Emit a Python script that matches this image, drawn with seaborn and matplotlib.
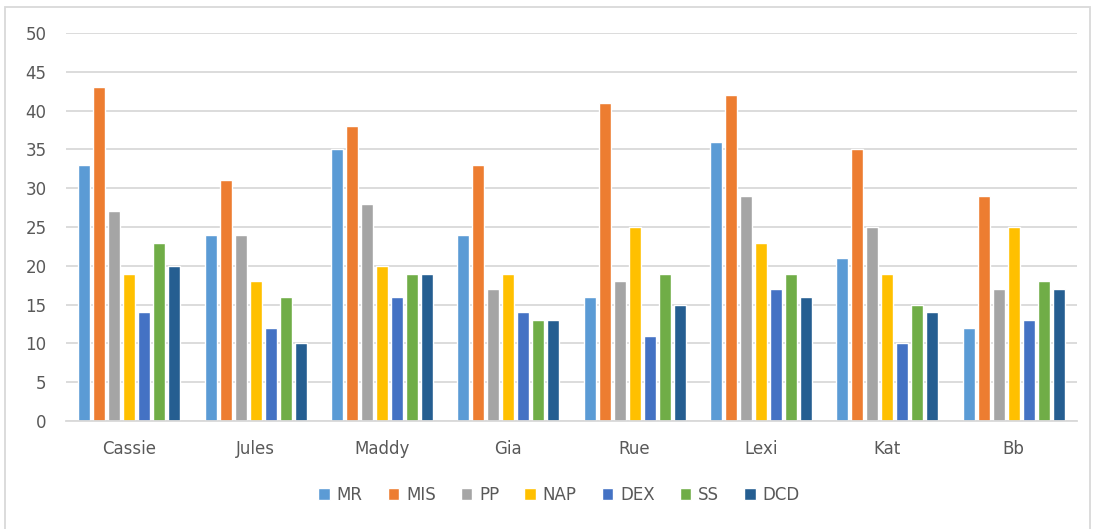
import matplotlib
matplotlib.use("Agg")
import matplotlib.pyplot as plt
import seaborn as sns
import pandas as pd
from matplotlib.patches import Rectangle

# data
names = ["Cassie", "Jules", "Maddy", "Gia", "Rue", "Lexi", "Kat", "Bb"]
series = ["MR", "MIS", "PP", "NAP", "DEX", "SS", "DCD"]
MR = [33, 24, 35, 24, 16, 36, 21, 12]
MIS = [43, 31, 38, 33, 41, 42, 35, 29]
PP = [27, 24, 28, 17, 18, 29, 25, 17]
NAP = [19, 18, 20, 19, 25, 23, 19, 25]
DEX = [14, 12, 16, 14, 11, 17, 10, 13]
SS = [23, 16, 19, 13, 19, 19, 15, 18]
DCD = [20, 10, 19, 13, 15, 16, 14, 17]
colors = ["#5B9BD5", "#ED7D31", "#A5A5A5", "#FFC000", "#4472C4", "#70AD47", "#255E91"]

rows = []
for s, vals in zip(series, [MR, MIS, PP, NAP, DEX, SS, DCD]):
    for n, v in zip(names, vals):
        rows.append({"name": n, "series": s, "value": v})
df = pd.DataFrame(rows)

sns.set_style("white")
plt.rcParams['font.family'] = ['DejaVu Sans']

fig = plt.figure(figsize=(10.94, 5.29), dpi=100)
ax = fig.add_axes([66/1094, 1-421/529, (1077-66)/1094, (421-33)/529])

sns.barplot(data=df, x="name", y="value", hue="series", order=names,
            hue_order=series, palette=colors, width=0.83, gap=0.2,
            saturation=1, ax=ax, legend=True)

ax.set_ylim(0, 50)
ax.set_yticks(range(0, 51, 5))
ax.yaxis.grid(True, color="#D9D9D9", linewidth=1.3)
ax.set_axisbelow(True)
for side in ["left", "right", "top"]:
    ax.spines[side].set_visible(False)
ax.spines["bottom"].set_color("#D9D9D9")
ax.spines["bottom"].set_linewidth(1.3)
ax.tick_params(axis="both", length=0, labelsize=12, labelcolor="#595959")
ax.tick_params(axis="x", pad=14)
ax.tick_params(axis="y", pad=14)
ax.set_xlabel("")
ax.set_ylabel("")

handles, labels = ax.get_legend_handles_labels()
ax.legend_.remove()
fig.legend(handles, labels, loc="center", bbox_to_anchor=(559/1094, 1-495/529),
           ncol=7, frameon=False, fontsize=12, handlelength=0.7, handleheight=0.7,
           handletextpad=0.4, columnspacing=1.5, labelcolor="#595959")

# chart border
fig.patches.append(Rectangle((5/1094, -0.01), (1090-5)/1094, 1-7/529+0.01,
                             transform=fig.transFigure, fill=False,
                             edgecolor="#D9D9D9", linewidth=1.3))

fig.savefig("out.png", dpi=100)
